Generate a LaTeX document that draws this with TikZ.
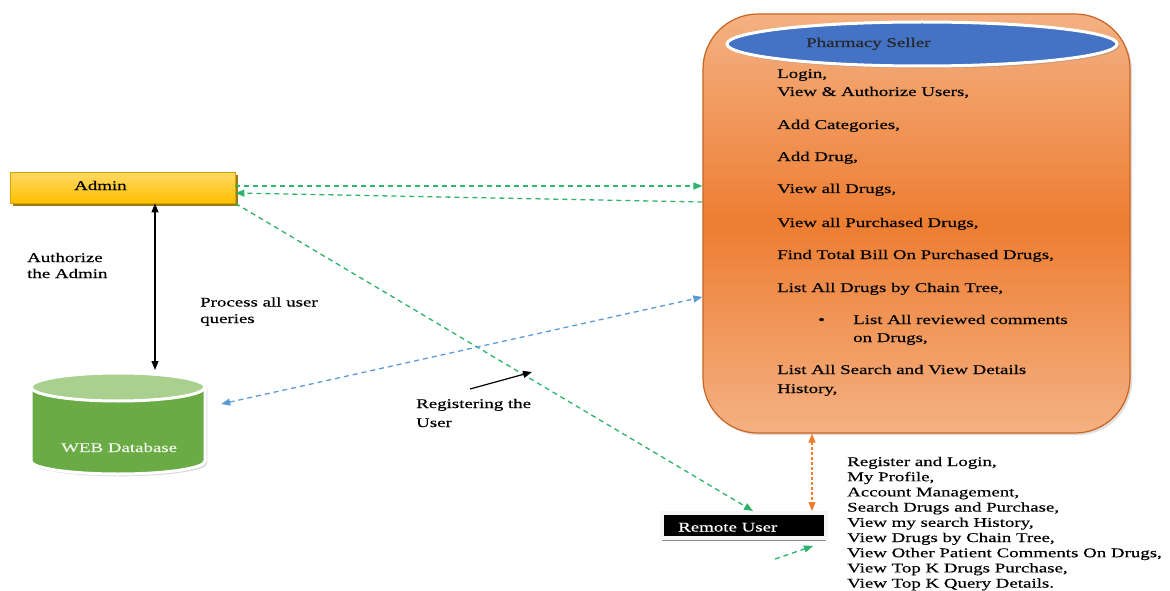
\documentclass[tikz,border=0pt]{standalone}
\usepackage{fontspec}
\setmainfont{Liberation Serif}[FakeStretch=1.42,FakeBold=0.4]
\usetikzlibrary{arrows.meta,shapes.geometric,shadows}

\definecolor{admgold}{HTML}{FFBF00}
\definecolor{admlight}{HTML}{FFD966}
\definecolor{admedge}{HTML}{D9A300}
\definecolor{admshade}{HTML}{9C7A14}
\definecolor{dbgreen}{HTML}{6AAB46}
\definecolor{dbtop}{HTML}{A9D08E}
\definecolor{dbtext}{HTML}{EEF6E8}
\definecolor{selorange}{HTML}{ED7D31}
\definecolor{sellight}{HTML}{F4B183}
\definecolor{selborder}{HTML}{C9631F}
\definecolor{selblue}{HTML}{4472C4}
\definecolor{lnkgreen}{HTML}{2DB36A}
\definecolor{lnkblue}{HTML}{5B9BD5}

\begin{document}
\begin{tikzpicture}[x=1pt,y=-1pt,font=\fontsize{13.3}{15.5}\selectfont,
  >={Triangle[length=9pt,width=7pt]},
  txt/.style={anchor=base west,inner sep=0pt},
  adminbox/.style={rectangle,minimum width=225pt,minimum height=31pt,inner sep=0pt,
    draw=admedge,line width=0.8pt,top color=admlight,bottom color=admgold,
    drop shadow={shadow xshift=2.5pt,shadow yshift=-2.5pt,fill=admshade,opacity=1}},
  sellerbox/.style={rectangle,rounded corners=55pt,minimum width=427pt,minimum height=419pt,
    draw=selborder,line width=1.2pt,top color=sellight,bottom color=sellight,middle color=selorange,
    drop shadow={opacity=.25}},
  titleshape/.style={ellipse,minimum width=390pt,minimum height=44pt,inner sep=0pt,
    fill=selblue,draw=white,line width=3pt,drop shadow={opacity=.35}},
  remotebox/.style={rectangle,minimum width=164pt,minimum height=25pt,inner sep=0pt,
    fill=black,draw=gray!8,line width=4pt,
    drop shadow={shadow xshift=0pt,shadow yshift=-3pt,fill=black!45,opacity=1}},
  dbrim/.style={draw=white,line width=3pt},
  greenlink/.style={lnkgreen,line width=1.3pt,dash pattern=on 5pt off 4pt,->},
  bluelink/.style={lnkblue,line width=1.3pt,dash pattern=on 5pt off 4pt,<->},
  orangelink/.style={selorange,line width=1.3pt,dash pattern=on 3pt off 2pt,<->},
  blk/.style={black,line width=1.2pt}
]
\useasboundingbox (0,0) rectangle (1170,591);

% admin
\node[adminbox] (admin) at (122.5,187.5) {};
\node[txt] (admintxt) at (74,190) {Admin};

% web database
\node[inner sep=0pt,minimum width=182pt,minimum height=104pt] (db) at (118,423) {};
\draw[dbrim,fill=dbgreen,drop shadow={opacity=.3}] (31,387) -- (31,461)
  arc[start angle=180,end angle=0,x radius=87,y radius=13] -- (205,387)
  arc[start angle=0,end angle=-180,x radius=87,y radius=14] -- cycle;
\draw[dbrim,fill=dbtop] (118,387) ellipse[x radius=87,y radius=14];
\node[txt,text=dbtext] (dbtxt) at (61,452) {WEB Database};

% pharmacy seller
\node[sellerbox] (seller) at (916.5,223.5) {};
\node[titleshape] (title) at (922,44) {};
\node[txt,text=black!85] (titletxt) at (806,47) {Pharmacy Seller};

\foreach \yy/\lbl [count=\i] in {78/{Login,},96/{View \& Authorize Users,},
    129/{Add Categories,},161/{Add Drug,},193/{View all Drugs,},
    227/{View all Purchased Drugs,},259/{Find Total Bill On Purchased Drugs,},
    292/{List All Drugs by Chain Tree,},374/{List All Search and View Details},393/{History,}}
  \node[txt] (sl\i) at (777,\yy) {\lbl};
\node[txt] (bullet) at (818,324) {\textbullet};
\node[txt] (rc1) at (853,324) {List All reviewed comments};
\node[txt] (rc2) at (853,342) {on Drugs,};

% remote user
\node[remotebox] (remote) at (744,525.5) {};
\node[txt,text=white] (remotetxt) at (678,531.5) {Remote User};

\foreach \lbl [count=\i] in {{Register and Login,},{My Profile,},{Account Management,},
    {Search Drugs and Purchase,},{View my search History,},{View Drugs by Chain Tree,},
    {View Other Patient Comments On Drugs,},{View Top K Drugs Purchase,},{View Top K Query Details.}}
  \node[txt] (ul\i) at (847,450.8+15.2*\i) {\lbl};

% labels
\node[txt] (auth1) at (27,262) {Authorize};
\node[txt] (auth2) at (27,278) {the Admin};
\node[txt] (proc1) at (200,306.5) {Process all user};
\node[txt] (proc2) at (200,323) {queries};
\node[txt] (reg1) at (416,408) {Registering the};
\node[txt] (reg2) at (416,427) {User};

% connectors
\coordinate (dbin) at (155,370);
\draw[blk,<->] (admin.south -| dbin) -- (dbin);
\draw[greenlink] ([yshift=1.5pt]admin.east) -- ([yshift=1.5pt]admin.east -| seller.west);
\draw[greenlink] ([yshift=21.5pt]seller.west) -- ([yshift=-5.5pt]admin.east);
\draw[greenlink] (admin.south east) -- ([xshift=9pt]remote.north);
\draw[bluelink] ([xshift=12pt,yshift=19pt]db.east) -- ([yshift=-73.5pt]seller.west);
\coordinate (ro) at ([xshift=68pt]remote.north);
\draw[orangelink] (seller.south -| ro) -- (ro);
\coordinate (regtail) at (470,389);
\coordinate (regtip) at (532,372);
\draw[blk,->] (regtail) -- (regtip);
\draw[greenlink] ([xshift=31pt,yshift=-19pt]remote.south) -- ([xshift=69pt,yshift=-6pt]remote.south);

\end{tikzpicture}
\end{document}
